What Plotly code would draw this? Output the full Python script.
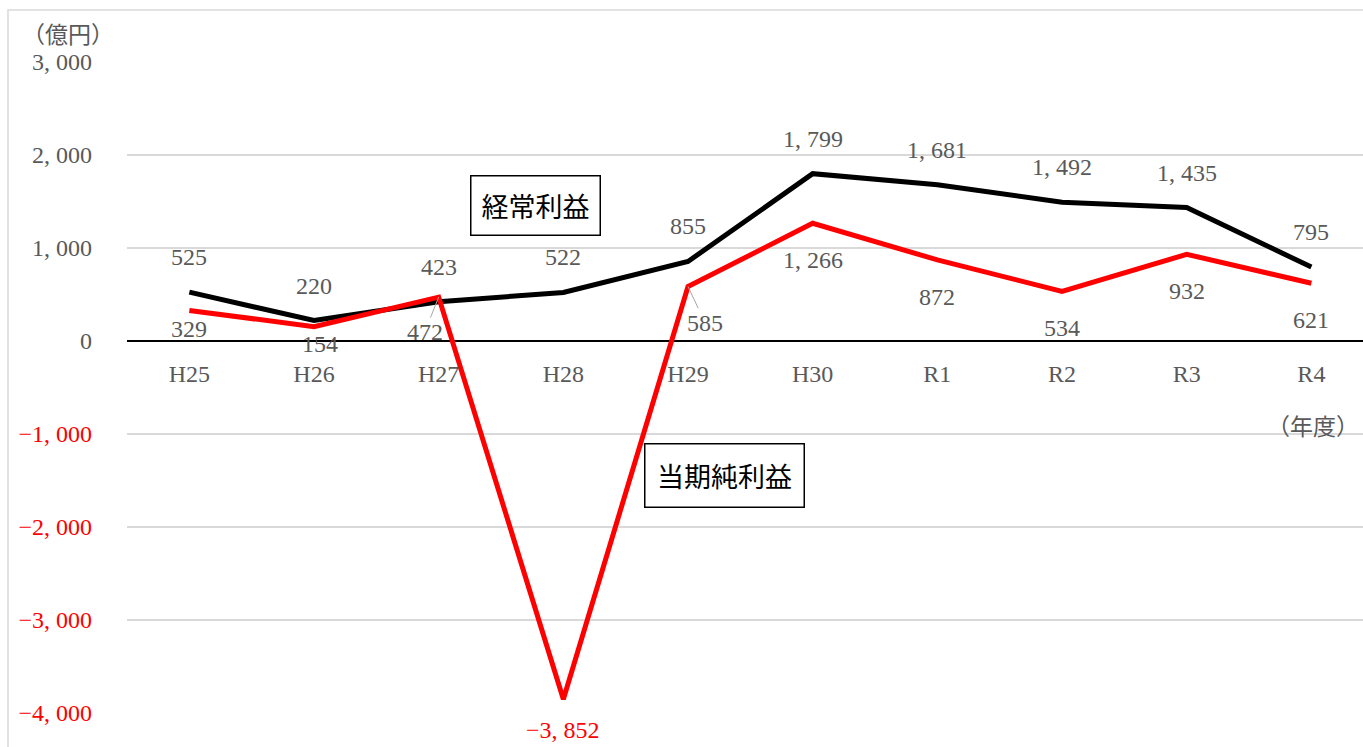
import plotly.graph_objects as go

# 年度と各系列の値（億円）
years = ["H25", "H26", "H27", "H28", "H29", "H30", "R1", "R2", "R3", "R4"]
ordinary_profit = [525, 220, 423, 522, 855, 1799, 1681, 1492, 1435, 795]
net_profit = [329, 154, 472, -3852, 585, 1266, 872, 534, 932, 621]
y_ticks = [3000, 2000, 1000, 0, -1000, -2000, -3000, -4000]

GREY = "#595959"
GRID = "#d9d9d9"
SERIF = "Liberation Serif, DejaVu Serif, serif"
CJK = "Noto Sans CJK JP, sans-serif"
NUM_SIZE = 24


def fmt(v):
    s = f"{abs(v):,}".replace(",", ", ")
    return ("\u2212" + s) if v < 0 else s


def tick_text(v):
    s = fmt(v)
    return f'<span style="color:#ff0000">{s}</span>' if v < 0 else s


fig = go.Figure()
fig.add_trace(go.Scatter(x=years, y=ordinary_profit, mode="lines",
                         line=dict(color="#000000", width=5),
                         name="経常利益", showlegend=False))
fig.add_trace(go.Scatter(x=years, y=net_profit, mode="lines",
                         line=dict(color="#ff0000", width=5),
                         name="当期純利益", showlegend=False))

annotations = []
# 経常利益のラベル（点の上）
for yr, v in zip(years, ordinary_profit):
    annotations.append(dict(x=yr, y=v, text=fmt(v), showarrow=False,
                            yshift=35, font=dict(family=SERIF, size=NUM_SIZE, color=GREY)))

# 当期純利益のラベル（点の下）。重なる箇所は位置をずらし引出線を付ける
net_offsets = {"H25": (0, -19), "H26": (6, -17), "H28": (0, -31)}
leader = {"H27": (-14, 35), "H29": (17, 36)}
for yr, v in zip(years, net_profit):
    color = "#ff0000" if v < 0 else GREY
    font = dict(family=SERIF, size=NUM_SIZE, color=color)
    if yr in leader:
        ax, ay = leader[yr]
        annotations.append(dict(x=yr, y=v, text=fmt(v), showarrow=True,
                                arrowhead=0, arrowwidth=1, arrowcolor="#a6a6a6",
                                ax=ax, ay=ay, font=font))
    else:
        dx, dy = net_offsets.get(yr, (0, -37))
        annotations.append(dict(x=yr, y=v, text=fmt(v), showarrow=False,
                                xshift=dx, yshift=dy, font=font))

# 系列名の枠付きラベル
annotations.append(dict(x=535, y=205, xref="paper", yref="paper", text="経常利益",
                        showarrow=False, font=dict(family=CJK, size=27, color="#000000"),
                        bordercolor="#000000", borderwidth=1.5, borderpad=0,
                        width=128, height=58, bgcolor="#ffffff"))
annotations.append(dict(x=724, y=475, xref="paper", yref="paper", text="当期純利益",
                        showarrow=False, font=dict(family=CJK, size=27, color="#000000"),
                        bordercolor="#000000", borderwidth=1.5, borderpad=0,
                        width=158, height=62, bgcolor="#ffffff"))

# 単位
annotations.append(dict(x=68, y=33, xref="paper", yref="paper", text="（億円）",
                        showarrow=False, font=dict(family=CJK, size=23, color=GREY)))
annotations.append(dict(x=1313, y=425, xref="paper", yref="paper", text="（年度）",
                        showarrow=False, font=dict(family=CJK, size=23, color=GREY)))

W, H = 1363, 747
L, R, T, B = 127, 0, 62, 34
pw, ph = W - L - R, H - T - B


def px_x(px):
    return (px - L) / pw


def px_y(py):
    return (H - B - py) / ph


for a in annotations:
    if a.get("xref") == "paper":
        a["x"] = px_x(a["x"])
        a["y"] = px_y(a["y"])
        a["xanchor"] = "center"
        a["yanchor"] = "middle"

zero_pos = px_y(341)

fig.update_layout(
    width=W, height=H,
    margin=dict(l=L, r=R, t=T, b=B, pad=0),
    paper_bgcolor="#ffffff", plot_bgcolor="#ffffff",
    annotations=annotations,
    shapes=[dict(type="rect", xref="paper", yref="paper",
                 x0=px_x(8), x1=px_x(1400), y0=px_y(790), y1=px_y(10),
                 line=dict(color=GRID, width=1.5), fillcolor="rgba(0,0,0,0)",
                 layer="below")],
    xaxis=dict(type="category", range=[-0.5, -0.5 + pw / 124.67],
               showgrid=False, showline=False, zeroline=False, ticks="",
               anchor="free", position=zero_pos, ticklabelstandoff=16,
               tickfont=dict(family=SERIF, size=NUM_SIZE, color=GREY)),
    yaxis=dict(range=[-4000, 3000], tickvals=y_ticks,
               ticktext=[tick_text(v) for v in y_ticks],
               showgrid=True, gridcolor=GRID, gridwidth=1.5,
               zeroline=True, zerolinecolor="#000000", zerolinewidth=1.5,
               showline=False, ticks="", ticklabelstandoff=34,
               tickfont=dict(family=SERIF, size=NUM_SIZE, color=GREY)),
)

fig.write_html("out.html")
